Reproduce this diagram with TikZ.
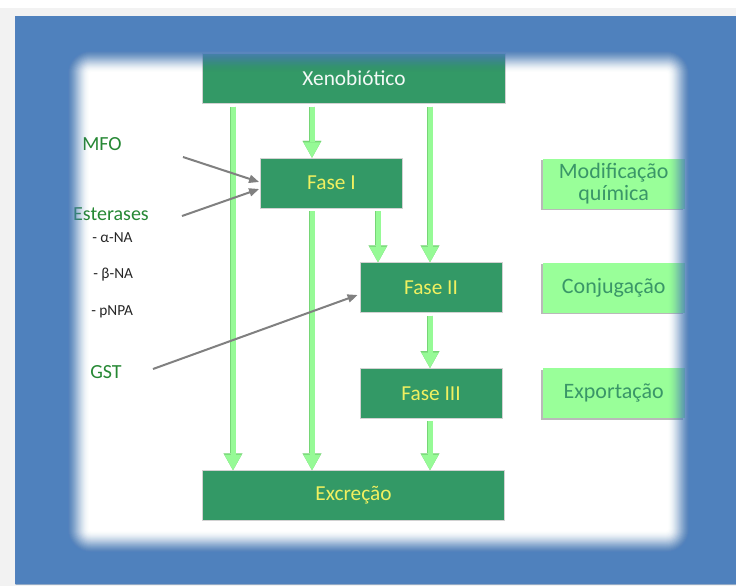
\documentclass[tikz,border=0pt]{standalone}
\usepackage{fontspec}
\setmainfont{Carlito}
\usetikzlibrary{positioning,arrows.meta,calc,shadows}
\definecolor{frameblue}{RGB}{79,129,189}
\definecolor{pagegray}{RGB}{242,242,242}
\definecolor{phasegreen}{RGB}{51,153,102}
\definecolor{phasetext}{RGB}{240,240,96}
\definecolor{rolegreen}{RGB}{153,255,153}
\definecolor{roletext}{RGB}{58,150,104}
\definecolor{flowgreen}{RGB}{150,250,150}
\definecolor{flowedge}{RGB}{118,214,118}
\definecolor{enzymegreen}{RGB}{38,136,52}
\definecolor{pointergray}{RGB}{128,128,128}

\begin{document}
\begin{tikzpicture}[
    x=0.75pt, y=-0.75pt,
    phasebox/.style={draw=gray!35, line width=0.6pt, fill=phasegreen, minimum width=106.5pt, minimum height=37.5pt, inner sep=0pt, font=\fontsize{16}{19}\selectfont, text=phasetext},
    widebox/.style={phasebox, minimum width=227pt},
    rolebox/.style={fill=rolegreen, minimum width=106.5pt, minimum height=37.5pt, inner sep=0pt, align=center, font=\fontsize{16.5}{16.5}\selectfont, text=roletext, drop shadow={shadow xshift=-1pt, shadow yshift=-1pt, fill=gray!55, opacity=1}},
    enzyme/.style={text=enzymegreen, font=\fontsize{15}{18}\selectfont, inner sep=0pt},
    substrate/.style={text=black!85, font=\fontsize{11.5}{14}\selectfont, inner sep=0pt, anchor=west},
    flowarrow/.style={line width=3.75pt, draw=flowgreen, shorten <=2pt, -{Triangle[width=12.75pt,length=11.5pt,line width=0.01pt]}, preaction={draw=flowedge, line width=4.75pt, -{Triangle[width=14pt,length=12.5pt,line width=0.01pt]}}},
    pointer/.style={line width=1.5pt, draw=pointergray, -{Triangle[width=6pt,length=7.5pt]}}
]
    \useasboundingbox (0,0) rectangle (736,586);
    % page and frame
    \fill[white] (0,0) rectangle (736,8);
    \fill[pagegray] (0,8) rectangle (736,586);
    \fill[white] (15.5,16) rectangle (736,584);

    % phases
    \node[widebox, text=white!94!phasegreen] (xeno) at (354,78.5) {Xenobiótico};
    \node[phasebox] (fase1) at (331.5,183) {Fase I};
    \node[phasebox] (fase2) at (431,287.5) {Fase II};
    \node[phasebox, below=41.25pt of fase2] (fase3) {Fase III};
    \node[widebox] (excr) at (353.5,495.5) {Excreção};

    % roles
    \node[rolebox, right=30pt of fase2] (conj) {Conjugação};
    \node[rolebox, right=30pt of fase3] (export) {Exportação};
    \node[rolebox, above=40pt of conj] (modif) {Modificação\\química};

    % enzymes
    \node[enzyme] (mfo) at (102,144) {MFO};
    \node[enzyme] (esterases) at (111,214) {Esterases};
    \node[substrate] (anaph) at (92,238) {- α-NA};
    \node[substrate] (bnaph) at (93,275) {- β-NA};
    \node[substrate] (pnpa) at (91,312) {- pNPA};
    \node[enzyme] (gst) at (106,372) {GST};

    % flow
    \coordinate (col1) at (233,0);
    \coordinate (col2) at (312,0);
    \coordinate (col3) at (378,0);
    \coordinate (col4) at (430,0);
    \foreach \from/\to/\col in {xeno/excr/col1, xeno/fase1/col2, xeno/fase2/col4, fase1/excr/col2, fase1/fase2/col3, fase2/fase3/col4, fase3/excr/col4}
        \draw[flowarrow] (\from.south -| \col) -- (\to.north -| \col);

    \coordinate (mfotail) at (183,157);
    \coordinate (esttail) at (182,216);
    \coordinate (gsttail) at (153,369);
    \draw[pointer] (mfotail) -- ($(fase1.west)+(-1,-1)$);
    \draw[pointer] (esttail) -- ($(fase1.west)+(-1,6)$);
    \draw[pointer] (gsttail) -- ($(fase2.west)+(-2,7.5)$);

    % soft edge of the frame
    \def\blur{26}
    \fill[frameblue, even odd rule] (15.5,16) rectangle (736,584) [rounded corners=20pt] (64,47) rectangle (693,556);
    \foreach \k in {1,...,\blur}{
        \pgfmathsetmacro\tprev{(1-cos((\k-0.5)*180/\blur))/2}
        \pgfmathsetmacro\tcur{(1-cos((\k+0.5)*180/\blur))/2}
        \pgfmathsetmacro\fade{1-\tprev/\tcur}
        \pgfmathsetmacro\rad{max(1,20-\k*0.75)}
        \fill[frameblue, opacity=\fade, even odd rule] (15.5,16) rectangle (736,584) [rounded corners=\rad pt] (64+\k,47+\k) rectangle (693-\k,556-\k);
    }
\end{tikzpicture}
\end{document}
